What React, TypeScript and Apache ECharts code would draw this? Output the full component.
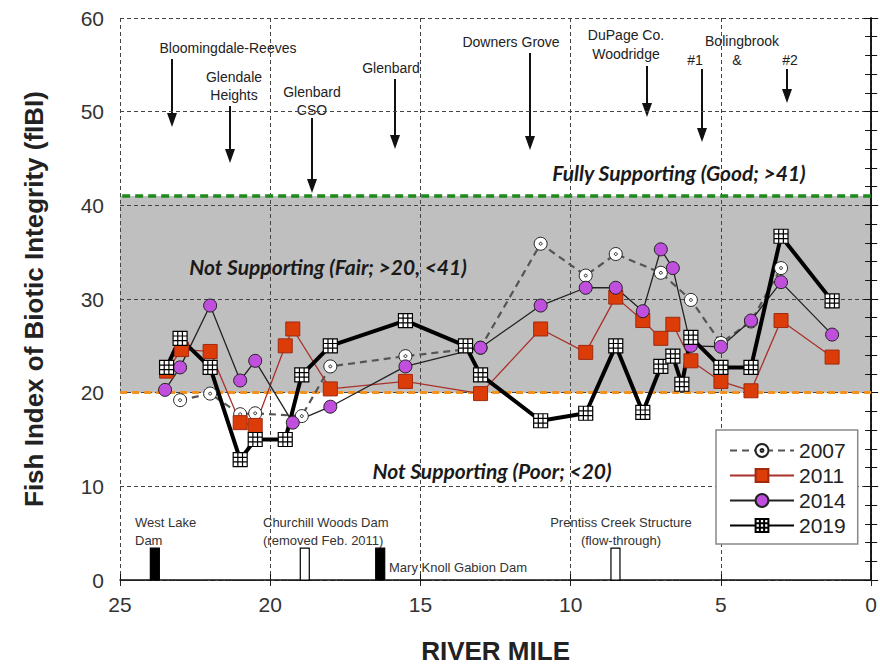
import React, { useEffect, useRef } from "react";
import * as echarts from "echarts";

// ---- data (river mile, fIBI) ----
const miles2007 = [23.0, 22.0, 21.0, 20.5, 18.95, 18.0, 15.5, 13.0, 11.0, 9.5, 8.5, 7.0, 6.0, 5.0, 4.0, 3.0];
const fibi2007 = [19.2, 19.9, 17.7, 17.8, 17.5, 22.8, 23.9, 24.8, 35.9, 32.5, 34.8, 32.8, 29.9, 25.3, 27.6, 33.3];

const miles2011 = [23.45, 22.95, 22.0, 21.0, 20.5, 19.5, 19.25, 18.0, 15.5, 13.0, 11.0, 9.5, 8.5, 7.6, 7.0, 6.6, 6.0, 5.0, 4.0, 3.0, 1.3];
const fibi2011 = [22.3, 24.6, 24.4, 16.8, 16.5, 25.0, 26.8, 20.4, 21.2, 19.9, 26.8, 24.3, 30.2, 27.7, 25.8, 27.3, 23.4, 21.2, 20.2, 27.7, 23.8];

const miles2014 = [23.5, 23.0, 22.0, 21.0, 20.5, 19.25, 18.0, 15.5, 13.0, 11.0, 9.5, 8.5, 7.6, 7.0, 6.6, 6.0, 5.0, 4.0, 3.0, 1.3];
const fibi2014 = [20.3, 22.7, 29.3, 21.3, 23.4, 16.8, 18.5, 22.8, 24.8, 29.3, 31.2, 31.2, 28.7, 35.3, 33.3, 25.0, 24.9, 27.7, 31.8, 26.2];

const miles2019 = [23.45, 23.0, 22.0, 21.0, 20.5, 19.5, 18.95, 18.0, 15.5, 13.5, 13.0, 11.0, 9.5, 8.5, 7.6, 7.0, 6.6, 6.3, 6.0, 5.0, 4.0, 3.0, 1.3];
const fibi2019 = [22.7, 25.8, 22.7, 12.85, 15.0, 15.0, 21.9, 25.0, 27.7, 25.0, 21.9, 17.0, 17.8, 25.0, 17.9, 22.8, 23.9, 20.9, 25.9, 22.7, 22.7, 36.7, 29.8];

const damMiles = [23.84, 18.85, 16.34, 8.51];
const damIntact = [true, false, true, false];

const yearNames = ["2007", "2011", "2014", "2019"];
const xTicks = { min: 0, max: 25, interval: 5 };
const yTicks = { min: 0, max: 60, interval: 10 };
const fairLow = 20;
const goodLow = 41;

const pairs = (xs: number[], ys: number[]) => xs.map((x, i) => [x, ys[i]]);

const FONT = "'Liberation Sans', Arial, sans-serif";
const sym2007 = "path://M10,0A10,10,0,1,1,9.999,0Z M10,7.8A2.2,2.2,0,1,1,9.999,7.8Z";
const sym2019 = "path://M0,0H15V15H0Z M5,0V15 M10,0V15 M0,5H15 M0,10H15";

function arrow(x: number, y1: number, y2: number) {
  return [
    { type: "line", silent: true, shape: { x1: x, y1, x2: x, y2: y2 - 10 }, style: { stroke: "#111", lineWidth: 2 } },
    { type: "polygon", silent: true, shape: { points: [[x - 5, y2 - 14], [x + 5, y2 - 14], [x, y2]] }, style: { fill: "#111" } },
  ];
}

function txt(x: number, y: number, text: string, opts: any = {}) {
  return {
    type: "text",
    silent: true,
    x,
    y,
    style: {
      text,
      fill: opts.fill || "#222",
      fontSize: opts.fontSize || 14,
      fontFamily: opts.fontFamily || FONT,
      fontWeight: opts.fontWeight || "normal",
      fontStyle: opts.fontStyle || "normal",
      align: opts.align || "center",
      verticalAlign: "middle",
      lineHeight: opts.lineHeight || 18,
    },
  };
}

export default function App() {
  const ref = useRef<HTMLDivElement>(null);
  useEffect(() => {
    if (!ref.current) return;
    const chart = echarts.init(ref.current, undefined, { renderer: "svg" });
    const catFont = { fontSize: 21, fontFamily: "Lato, " + FONT, fontWeight: "bold", fontStyle: "italic", fill: "#1a1a1a" };
    const damFont = { fontSize: 13, align: "left", lineHeight: 18, fill: "#333" };
    const option: any = {
      animation: false,
      backgroundColor: "#fff",
      grid: { left: 120, right: 8, top: 18, bottom: 86 },
      legend: {
        data: yearNames,
        orient: "vertical",
        left: 716,
        top: 430,
        itemWidth: 64,
        itemHeight: 16,
        itemGap: 4,
        padding: [10, 12, 8, 13],
        backgroundColor: "#fff",
        borderColor: "#888",
        borderWidth: 1.5,
        borderRadius: 0,
        textStyle: { fontSize: 21, fontFamily: FONT, color: "#222" },
      },
      xAxis: [
        {
          type: "value",
          inverse: true,
          ...xTicks,
          name: "RIVER MILE",
          nameLocation: "middle",
          nameGap: 58,
          nameTextStyle: { fontSize: 26, fontWeight: "bold", color: "#222", fontFamily: FONT },
          axisLine: { lineStyle: { color: "#111", width: 1.5 } },
          axisTick: { inside: true, length: 6, lineStyle: { color: "#111" } },
          axisLabel: { fontSize: 21, color: "#333", margin: 14, fontFamily: FONT },
          splitLine: { show: true, lineStyle: { color: "#444", type: [4, 3], width: 1 } },
        },
        {
          type: "value",
          inverse: true,
          position: "top",
          ...xTicks,
          axisLine: { show: true, lineStyle: { color: "#222", type: [5, 3], width: 1.2 } },
          axisTick: { show: true, inside: true, length: 6 },
          axisLabel: { show: false },
          splitLine: { show: false },
        },
      ],
      yAxis: [
        {
          type: "value",
          ...yTicks,
          name: "Fish Index of Biotic Integrity (fIBI)",
          nameLocation: "middle",
          nameGap: 73,
          nameTextStyle: { fontSize: 26, fontWeight: "bold", color: "#222", fontFamily: FONT },
          axisLine: { show: true, lineStyle: { color: "#111", width: 1.5 } },
          axisTick: { show: true, inside: true, length: 7, lineStyle: { color: "#111" } },
          minorTick: { show: true, splitNumber: 5, length: 6, lineStyle: { color: "#111" } },
          axisLabel: { fontSize: 21, color: "#333", margin: 16, fontFamily: FONT },
          splitLine: { show: true, lineStyle: { color: "#444", type: [4, 3], width: 1 } },
        },
        {
          type: "value",
          position: "right",
          ...yTicks,
          axisLine: { show: true, lineStyle: { color: "#111", width: 1.5 } },
          axisTick: { show: true, inside: true, length: 7, lineStyle: { color: "#111" } },
          minorTick: { show: true, splitNumber: 5, length: 6, lineStyle: { color: "#111" } },
          axisLabel: { show: false },
          splitLine: { show: false },
        },
      ],
      series: [
        {
          name: "band",
          type: "line",
          data: [],
          z: -1,
          markArea: {
            silent: true,
            z: -1,
            itemStyle: { color: "#bfbfbf" },
            data: [[{ yAxis: fairLow }, { yAxis: goodLow }]],
          },
        },
        {
          name: "thresholds",
          type: "line",
          data: [],
          markLine: {
            silent: true,
            z: 1,
            symbol: "none",
            label: { show: false },
            data: [
              { yAxis: goodLow, lineStyle: { color: "#1e8a1e", width: 3.5, type: [8, 5] } },
              { yAxis: fairLow, lineStyle: { color: "#f39220", width: 3, type: [7, 5] } },
            ],
          },
        },
        {
          name: "dams",
          type: "custom",
          data: damMiles.map((m) => [m, 0]),
          renderItem: (params: any, api: any) => {
            const top = api.coord([api.value(0), 3.4]);
            const bot = api.coord([api.value(0), 0]);
            const filled = damIntact[params.dataIndex];
            return {
              type: "rect",
              shape: { x: top[0] - 4.5, y: top[1], width: 9, height: bot[1] - top[1] },
              style: { fill: filled ? "#000" : "#fff", stroke: "#000", lineWidth: 1.2 },
            };
          },
        },
        {
          name: "2007",
          type: "line",
          data: pairs(miles2007, fibi2007),
          symbol: sym2007,
          symbolSize: 13,
          lineStyle: { color: "#555", width: 2.2, type: [7, 5] },
          itemStyle: { color: "#fff", borderColor: "#222", borderWidth: 1 },
        },
        {
          name: "2011",
          type: "line",
          data: pairs(miles2011, fibi2011),
          symbol: "rect",
          symbolSize: 14,
          lineStyle: { color: "#a8322a", width: 1.3 },
          itemStyle: { color: "#dc3c08", borderColor: "#a02a10", borderWidth: 1 },
        },
        {
          name: "2014",
          type: "line",
          data: pairs(miles2014, fibi2014),
          symbol: "circle",
          symbolSize: 13,
          lineStyle: { color: "#222", width: 1.3 },
          itemStyle: { color: "#bf4fdc", borderColor: "#222", borderWidth: 1 },
        },
        {
          name: "2019",
          type: "line",
          data: pairs(miles2019, fibi2019),
          symbol: sym2019,
          symbolSize: 14,
          lineStyle: { color: "#000", width: 4 },
          itemStyle: { color: "#fff", borderColor: "#000", borderWidth: 1.2 },
        },
      ],
      graphic: [
        txt(228, 48, "Bloomingdale-Reeves"),
        ...arrow(172, 59, 127),
        txt(234, 86, "Glendale\nHeights"),
        ...arrow(230, 106, 163),
        txt(312, 101, "Glenbard\nCSO"),
        ...arrow(312, 118, 193),
        txt(391, 68, "Glenbard"),
        ...arrow(395, 79, 149),
        txt(511, 42, "Downers Grove"),
        ...arrow(530, 53, 150),
        txt(626, 44, "DuPage Co.\nWoodridge", { lineHeight: 19 }),
        ...arrow(647, 66, 117),
        txt(742, 41, "Bolingbrook"),
        txt(695, 60, "#1"),
        txt(737, 60, "&"),
        txt(790, 60, "#2"),
        ...arrow(702, 69, 142),
        ...arrow(787, 69, 103),
        txt(679, 172, "Fully Supporting (Good; >41)", catFont),
        txt(328, 266, "Not Supporting (Fair; >20, <41)", catFont),
        txt(492, 470, "Not Supporting (Poor; <20)", catFont),
        txt(135, 531, "West Lake\nDam", damFont),
        txt(263, 531, "Churchill Woods Dam\n(removed Feb. 2011)", damFont),
        txt(389, 567, "Mary Knoll Gabion Dam", damFont),
        txt(621, 531, "Prentiss Creek Structure\n(flow-through)", { ...damFont, align: "center" }),
      ],
    };
    chart.setOption(option);
    return () => chart.dispose();
  }, []);
  return <div ref={ref} style={{ position: "fixed", left: 0, top: 0, width: 880, height: 669 }} />;
}
